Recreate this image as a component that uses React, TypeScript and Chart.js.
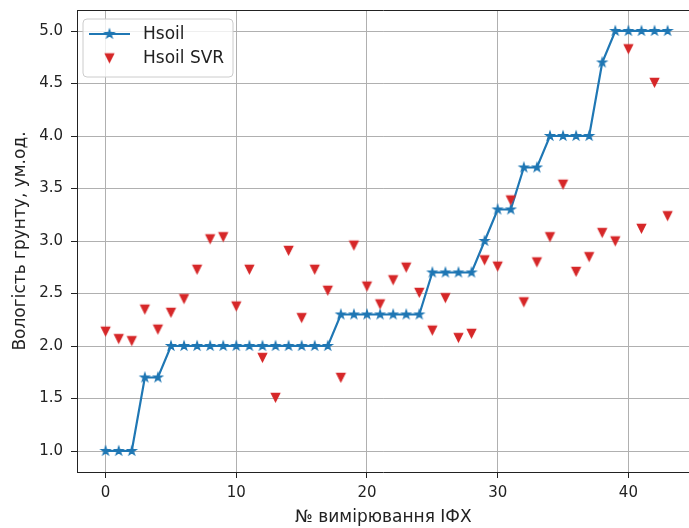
import React, { useEffect, useRef } from "react";
import { Chart, registerables } from "chart.js";

Chart.register(...registerables);

// ---- data ----
const measurementNo = [
  0, 1, 2, 3, 4, 5, 6, 7, 8, 9, 10, 11, 12, 13, 14, 15, 16, 17, 18, 19, 20, 21,
  22, 23, 24, 25, 26, 27, 28, 29, 30, 31, 32, 33, 34, 35, 36, 37, 38, 39, 40, 41,
  42, 43,
];
const hsoil = [
  1.0, 1.0, 1.0, 1.7, 1.7, 2.0, 2.0, 2.0, 2.0, 2.0, 2.0, 2.0, 2.0, 2.0, 2.0, 2.0,
  2.0, 2.0, 2.3, 2.3, 2.3, 2.3, 2.3, 2.3, 2.3, 2.7, 2.7, 2.7, 2.7, 3.0, 3.3, 3.3,
  3.7, 3.7, 4.0, 4.0, 4.0, 4.0, 4.7, 5.0, 5.0, 5.0, 5.0, 5.0,
];
const hsoilSvr = [
  2.14, 2.07, 2.05, 2.35, 2.16, 2.32, 2.45, 2.73, 3.02, 3.04, 2.38, 2.73, 1.89,
  1.51, 2.91, 2.27, 2.73, 2.53, 1.7, 2.96, 2.57, 2.4, 2.63, 2.75, 2.51, 2.15,
  2.46, 2.08, 2.12, 2.82, 2.76, 3.39, 2.42, 2.8, 3.04, 3.54, 2.71, 2.85, 3.08,
  3.0, 4.83, 3.12, 4.51, 3.24,
];
const xTicks = [0, 10, 20, 30, 40];
const yTicks = [1.0, 1.5, 2.0, 2.5, 3.0, 3.5, 4.0, 4.5, 5.0];
const seriesLabels = ["Hsoil", "Hsoil SVR"];
const xTitle = "№ вимірювання ІФХ";
const yTitle = "Вологість грунту, ум.од.";

const BLUE = "#1f77b4";
const RED = "#d62728";
const FONT_FAMILY = "'DejaVu Sans', sans-serif";
const TICK_SIZE = 15;
const LABEL_SIZE = 17;
const TEXT = "#222";

function makeStar(color: string, r: number, edge: number) {
  const size = Math.ceil(2 * (r + edge)) + 2;
  const c = document.createElement("canvas");
  c.width = size;
  c.height = size;
  const g = c.getContext("2d")!;
  g.translate(size / 2, size / 2);
  g.beginPath();
  for (let i = 0; i < 10; i++) {
    const rad = i % 2 === 0 ? r : r * 0.381966;
    const a = -Math.PI / 2 + (i * Math.PI) / 5;
    const px = rad * Math.cos(a);
    const py = rad * Math.sin(a);
    if (i === 0) g.moveTo(px, py);
    else g.lineTo(px, py);
  }
  g.closePath();
  g.fillStyle = color;
  g.fill();
  g.strokeStyle = color;
  g.lineWidth = edge;
  g.stroke();
  return c;
}

function makeTriDown(color: string, r: number, edge: number) {
  const size = Math.ceil(2 * (r + edge)) + 2;
  const c = document.createElement("canvas");
  c.width = size;
  c.height = size;
  const g = c.getContext("2d")!;
  g.translate(size / 2, size / 2);
  g.beginPath();
  g.moveTo(0, r);
  g.lineTo(-r, -r);
  g.lineTo(r, -r);
  g.closePath();
  g.fillStyle = color;
  g.fill();
  g.strokeStyle = color;
  g.lineWidth = edge;
  g.stroke();
  return c;
}

const zeroPad = (s: any) => {
  s.paddingTop = 0;
  s.paddingBottom = 0;
  s.paddingLeft = 0;
  s.paddingRight = 0;
};

export default function App() {
  const ref = useRef<HTMLCanvasElement | null>(null);

  useEffect(() => {
    document.body.style.margin = "0";
    const canvas = ref.current;
    if (!canvas) return;

    const star = makeStar(BLUE, 4.6, 1.2);
    const tri = makeTriDown(RED, 4.2, 1.2);

    const frame = {
      id: "mplFrame",
      afterDatasetsDraw(chart: any) {
        const { ctx, chartArea } = chart;
        ctx.save();
        ctx.strokeStyle = "#222";
        ctx.lineWidth = 1;
        ctx.beginPath();
        ctx.moveTo(chartArea.left, Math.round(chartArea.top) + 0.5);
        ctx.lineTo(chartArea.right, Math.round(chartArea.top) + 0.5);
        ctx.stroke();
        ctx.restore();
      },
    };

    const legendPlugin = {
      id: "mplLegend",
      afterDraw(chart: any) {
        const { ctx, chartArea } = chart;
        const x0 = chartArea.left + 6;
        const y0 = chartArea.top + 9;
        const w = 150;
        const h = 58;
        const r = 4;
        ctx.save();
        ctx.beginPath();
        ctx.moveTo(x0 + r, y0);
        ctx.lineTo(x0 + w - r, y0);
        ctx.quadraticCurveTo(x0 + w, y0, x0 + w, y0 + r);
        ctx.lineTo(x0 + w, y0 + h - r);
        ctx.quadraticCurveTo(x0 + w, y0 + h, x0 + w - r, y0 + h);
        ctx.lineTo(x0 + r, y0 + h);
        ctx.quadraticCurveTo(x0, y0 + h, x0, y0 + h - r);
        ctx.lineTo(x0, y0 + r);
        ctx.quadraticCurveTo(x0, y0, x0 + r, y0);
        ctx.closePath();
        ctx.fillStyle = "rgba(255,255,255,0.8)";
        ctx.fill();
        ctx.strokeStyle = "#cccccc";
        ctx.lineWidth = 1;
        ctx.stroke();

        const row1 = y0 + 15;
        const row2 = y0 + 39;
        ctx.strokeStyle = BLUE;
        ctx.lineWidth = 2.2;
        ctx.beginPath();
        ctx.moveTo(x0 + 6, row1);
        ctx.lineTo(x0 + 47, row1);
        ctx.stroke();
        ctx.drawImage(star, x0 + 26.5 - star.width / 2, row1 - star.height / 2);
        ctx.drawImage(tri, x0 + 26.5 - tri.width / 2, row2 - tri.height / 2);

        ctx.fillStyle = TEXT;
        ctx.font = `${LABEL_SIZE}px ${FONT_FAMILY}`;
        ctx.textBaseline = "middle";
        ctx.textAlign = "left";
        ctx.fillText(seriesLabels[0], x0 + 60, row1 + 1);
        ctx.fillText(seriesLabels[1], x0 + 60, row2 + 1);
        ctx.restore();
      },
    };

    const tickFont = { family: FONT_FAMILY, size: TICK_SIZE };
    const labelFont = { family: FONT_FAMILY, size: LABEL_SIZE };

    const chart = new Chart(canvas, {
      type: "scatter",
      data: {
        datasets: [
          {
            label: seriesLabels[0],
            data: measurementNo.map((x, i) => ({ x, y: hsoil[i] })),
            showLine: true,
            borderColor: BLUE,
            backgroundColor: BLUE,
            borderWidth: 2.2,
            tension: 0,
            pointStyle: star as any,
            pointRadius: 5,
            order: 2,
          },
          {
            label: seriesLabels[1],
            data: measurementNo.map((x, i) => ({ x, y: hsoilSvr[i] })),
            showLine: false,
            borderColor: RED,
            backgroundColor: RED,
            pointStyle: tri as any,
            pointRadius: 5,
            order: 1,
          },
        ],
      },
      options: {
        responsive: false,
        animation: false,
        events: [],
        layout: { padding: { top: 10, right: 0, left: 0, bottom: 0 } },
        plugins: {
          legend: { display: false },
          tooltip: { enabled: false },
        },
        scales: {
          x: {
            type: "linear",
            min: -2.19,
            max: 44.7,
            afterBuildTicks: (s: any) => {
              s.ticks = xTicks.map((v) => ({ value: v }));
            },
            afterFit: (s: any) => {
              s.height = 56;
              zeroPad(s);
            },
            grid: {
              color: "#b0b0b0",
              lineWidth: 1,
              tickLength: 6,
              tickColor: "#222",
            },
            border: { color: "#222", width: 1 },
            ticks: {
              font: tickFont,
              color: TEXT,
              padding: 6,
              maxRotation: 0,
              autoSkip: false,
              callback: (v: any) => String(v),
            },
            title: {
              display: true,
              text: xTitle,
              font: labelFont,
              color: TEXT,
              padding: { top: 0, bottom: 0 },
            },
          },
          y: {
            type: "linear",
            min: 0.8,
            max: 5.2,
            afterBuildTicks: (s: any) => {
              s.ticks = yTicks.map((v) => ({ value: v }));
            },
            afterFit: (s: any) => {
              s.width = 77;
              zeroPad(s);
            },
            grid: {
              color: "#b0b0b0",
              lineWidth: 1,
              tickLength: 6,
              tickColor: "#222",
            },
            border: { color: "#222", width: 1 },
            ticks: {
              font: tickFont,
              color: TEXT,
              padding: 8,
              autoSkip: false,
              callback: (v: any) => Number(v).toFixed(1),
            },
            title: {
              display: true,
              text: yTitle,
              font: labelFont,
              color: TEXT,
              padding: { top: 10, bottom: 0 },
            },
          },
        },
      },
      plugins: [frame, legendPlugin],
    });

    return () => chart.destroy();
  }, []);

  return (
    <div
      style={{
        position: "relative",
        width: 689,
        height: 528,
        overflow: "hidden",
        background: "#fff",
      }}
    >
      <div style={{ position: "absolute", left: 0, top: 0, width: 697, height: 528 }}>
        <canvas
          ref={ref}
          width={697}
          height={528}
          style={{ display: "block", width: 697, height: 528 }}
        />
      </div>
    </div>
  );
}
